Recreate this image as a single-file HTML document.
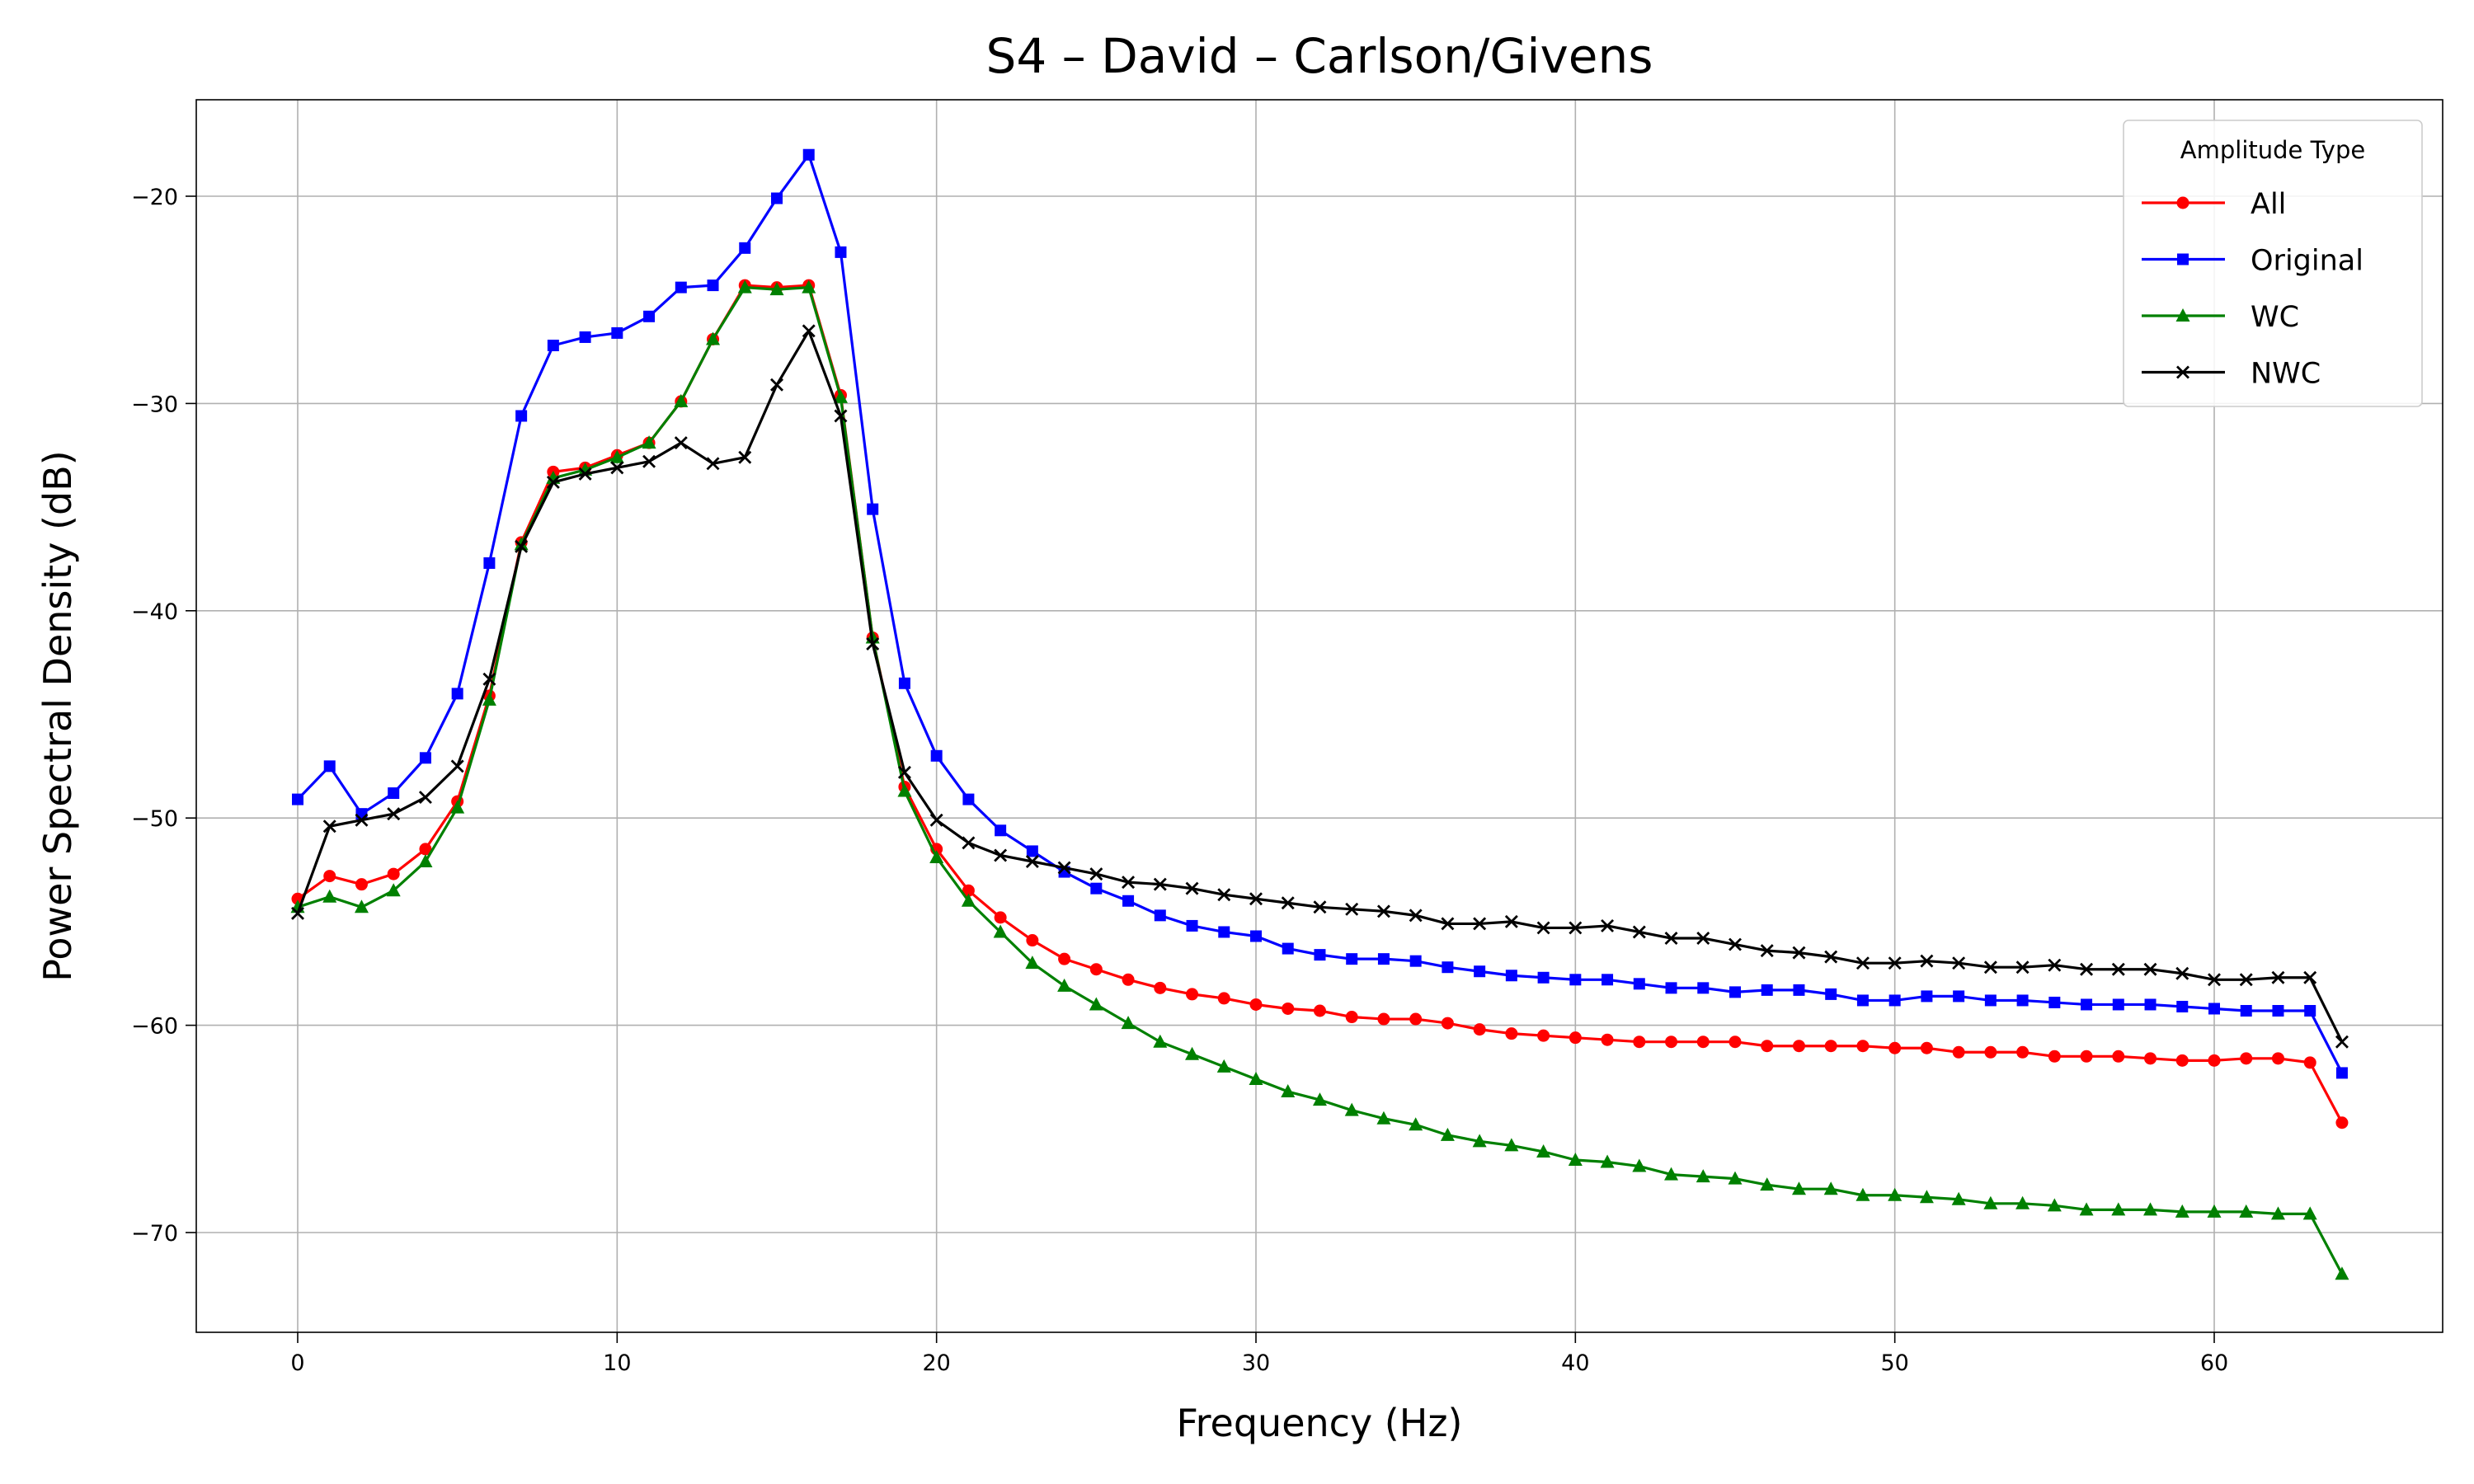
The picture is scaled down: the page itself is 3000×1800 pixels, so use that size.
<!DOCTYPE html>
<html><head><meta charset="utf-8"><style>
html,body{margin:0;padding:0;background:#fff}
svg{display:block;font-family:"DejaVu Sans","Liberation Sans",sans-serif}
</style></head><body>
<svg id="chart" width="3000" height="1800" viewBox="0 0 3000 1800"></svg>
<script>
const xs = Array.from({length:65},(_,i)=>i);
const allVals=[-53.9,-52.8,-53.2,-52.7,-51.5,-49.2,-44.1,-36.7,-33.3,-33.1,-32.5,-31.9,-29.9,-26.9,-24.3,-24.4,-24.3,-29.6,-41.3,-48.5,-51.5,-53.5,-54.8,-55.9,-56.8,-57.3,-57.8,-58.2,-58.5,-58.7,-59.0,-59.2,-59.3,-59.6,-59.7,-59.7,-59.9,-60.2,-60.4,-60.5,-60.6,-60.7,-60.8,-60.8,-60.8,-60.8,-61.0,-61.0,-61.0,-61.0,-61.1,-61.1,-61.3,-61.3,-61.3,-61.5,-61.5,-61.5,-61.6,-61.7,-61.7,-61.6,-61.6,-61.8,-64.7];
const origVals=[-49.1,-47.5,-49.8,-48.8,-47.1,-44.0,-37.7,-30.6,-27.2,-26.8,-26.6,-25.8,-24.4,-24.3,-22.5,-20.1,-18.0,-22.7,-35.1,-43.5,-47.0,-49.1,-50.6,-51.6,-52.6,-53.4,-54.0,-54.7,-55.2,-55.5,-55.7,-56.3,-56.6,-56.8,-56.8,-56.9,-57.2,-57.4,-57.6,-57.7,-57.8,-57.8,-58.0,-58.2,-58.2,-58.4,-58.3,-58.3,-58.5,-58.8,-58.8,-58.6,-58.6,-58.8,-58.8,-58.9,-59.0,-59.0,-59.0,-59.1,-59.2,-59.3,-59.3,-59.3,-62.3];
const wcVals=[-54.3,-53.8,-54.3,-53.5,-52.1,-49.5,-44.3,-36.8,-33.6,-33.2,-32.6,-31.9,-29.9,-26.9,-24.4,-24.5,-24.4,-29.7,-41.3,-48.7,-51.9,-54.0,-55.5,-57.0,-58.1,-59.0,-59.9,-60.8,-61.4,-62.0,-62.6,-63.2,-63.6,-64.1,-64.5,-64.8,-65.3,-65.6,-65.8,-66.1,-66.5,-66.6,-66.8,-67.2,-67.3,-67.4,-67.7,-67.9,-67.9,-68.2,-68.2,-68.3,-68.4,-68.6,-68.6,-68.7,-68.9,-68.9,-68.9,-69.0,-69.0,-69.0,-69.1,-69.1,-72.0];
const nwcVals=[-54.6,-50.4,-50.1,-49.8,-49.0,-47.5,-43.3,-36.9,-33.8,-33.4,-33.1,-32.8,-31.9,-32.9,-32.6,-29.1,-26.5,-30.6,-41.6,-47.8,-50.1,-51.2,-51.8,-52.1,-52.4,-52.7,-53.1,-53.2,-53.4,-53.7,-53.9,-54.1,-54.3,-54.4,-54.5,-54.7,-55.1,-55.1,-55.0,-55.3,-55.3,-55.2,-55.5,-55.8,-55.8,-56.1,-56.4,-56.5,-56.7,-57.0,-57.0,-56.9,-57.0,-57.2,-57.2,-57.1,-57.3,-57.3,-57.3,-57.5,-57.8,-57.8,-57.7,-57.7,-60.8];
const xTicks=[0,10,20,30,40,50,60];
const yTicks=[-20,-30,-40,-50,-60,-70];
const seriesNames=["All","Original","WC","NWC"];

const L=238,R=2962,T=121,B=1616;
const X=v=>361+(v-0)*(2685-361)/60;
const Y=v=>238+(-20-v)*(1495-238)/50;
const svg=document.getElementById('chart');
const NS='http://www.w3.org/2000/svg';
function mk(tag,attrs,parent){const e=document.createElementNS(NS,tag);for(const k in attrs)e.setAttribute(k,attrs[k]);(parent||svg).appendChild(e);return e;}

const grid=mk('g',{});


xTicks.forEach(t=>{mk('line',{x1:X(t),x2:X(t),y1:T,y2:B,stroke:'#b0b0b0','stroke-width':1.6},grid);});
yTicks.forEach(t=>{mk('line',{x1:L,x2:R,y1:Y(t),y2:Y(t),stroke:'#b0b0b0','stroke-width':1.6},grid);});

const xt=mk('g',{});


xTicks.forEach(t=>{mk('line',{x1:X(t),x2:X(t),y1:B,y2:B+13,stroke:'#000','stroke-width':1.6},xt);
 const tx=mk('text',{x:X(t),y:B+46,'font-size':27,'text-anchor':'middle'},xt);tx.textContent=t;});
const yt=mk('g',{});


yTicks.forEach(t=>{mk('line',{x1:L-13,x2:L,y1:Y(t),y2:Y(t),stroke:'#000','stroke-width':1.6},yt);
 const tx=mk('text',{x:L-22,y:Y(t)+10,'font-size':27,'text-anchor':'end'},yt);tx.textContent='\u2212'+Math.abs(t);});

const colors=['#ff0000','#0000ff','#008000','#000000'];
const data=[allVals,origVals,wcVals,nwcVals];
const markers=['circle','square','triangle','x'];
function marker(g,type,cx,cy,c){
 if(type==='circle')mk('circle',{cx,cy,r:7.5,fill:c},g);
 else if(type==='square')mk('rect',{x:cx-7,y:cy-7,width:14,height:14,fill:c},g);
 else if(type==='triangle')mk('polygon',{points:`${cx},${cy-9} ${cx-8.5},${cy+7} ${cx+8.5},${cy+7}`,fill:c},g);
 else {mk('path',{d:`M${cx-7},${cy-7}L${cx+7},${cy+7}M${cx-7},${cy+7}L${cx+7},${cy-7}`,stroke:c,'stroke-width':2.8},g);}
}
data.forEach((vals,si)=>{
 const g=mk('g',{});
 
 
 mk('polyline',{points:vals.map((v,i)=>X(xs[i])+','+Y(v)).join(' '),fill:'none',stroke:colors[si],'stroke-width':3.2,'stroke-linejoin':'round'},g);
 vals.forEach((v,i)=>marker(g,markers[si],X(xs[i]),Y(v),colors[si]));
});

const fr=mk('rect',{x:L,y:T,width:R-L,height:B-T,fill:'none',stroke:'#000','stroke-width':1.6});



const title=mk('text',{x:(L+R)/2,y:88,'font-size':58,'text-anchor':'middle'});
title.textContent='S4 \u2013 David \u2013 Carlson/Givens';


const xl=mk('text',{x:(L+R)/2,y:1742,'font-size':46,'text-anchor':'middle'});
xl.textContent='Frequency (Hz)';


const yl=mk('text',{x:0,y:0,'font-size':46,'text-anchor':'middle',transform:`translate(86,${(T+B)/2}) rotate(-90)`});
yl.textContent='Power Spectral Density (dB)';



const lg=mk('g',{});


mk('rect',{x:2575,y:146,width:362,height:347,rx:6,fill:'#fff','fill-opacity':0.85,stroke:'#cccccc','stroke-width':1.6},lg);
const lt=mk('text',{x:2756,y:192,'font-size':29,'text-anchor':'middle'},lg);lt.textContent='Amplitude Type';
seriesNames.forEach((n,si)=>{
 const e=mk('g',{},lg);
 
 
 const yy=246+si*68.5;
 mk('line',{x1:2597,x2:2698,y1:yy,y2:yy,stroke:colors[si],'stroke-width':3.2},e);
 marker(e,markers[si],2647,yy,colors[si]);
 const t=mk('text',{x:2729,y:yy+13,'font-size':35},e);t.textContent=n;
});
</script>
</body></html>
